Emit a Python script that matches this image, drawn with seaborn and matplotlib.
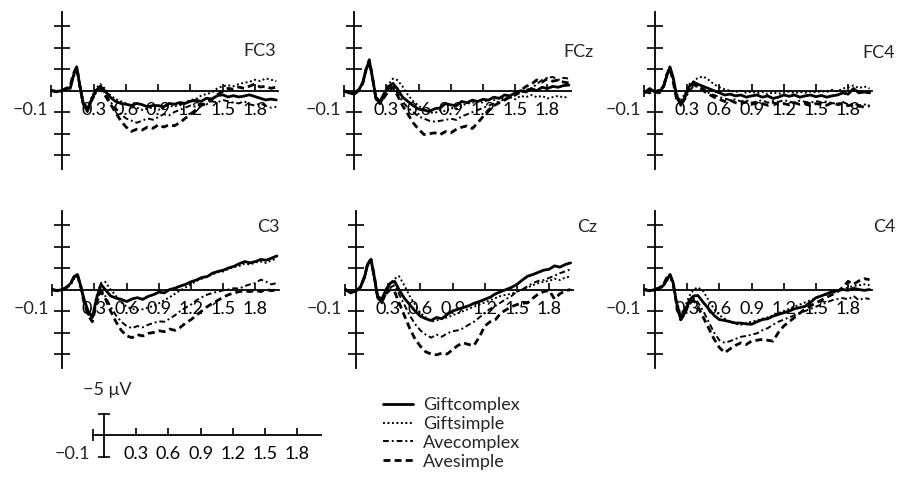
import matplotlib
matplotlib.use("Agg")
import matplotlib.pyplot as plt
from matplotlib.lines import Line2D
import pandas as pd
import seaborn as sns

# sample times (s) and condition / electrode names
times = [-0.1, -0.05, 0.0, 0.04, 0.08, 0.11, 0.14, 0.17, 0.2, 0.24, 0.28, 0.32, 0.36, 0.4,
         0.45, 0.5, 0.55, 0.6, 0.65, 0.7, 0.75, 0.8, 0.85, 0.9, 0.95, 1.0, 1.05, 1.1, 1.15, 1.2,
         1.25, 1.3, 1.35, 1.4, 1.45, 1.5, 1.55, 1.6, 1.65, 1.7, 1.75, 1.8, 1.85, 1.9, 1.95, 2.0]
conditions = ["Giftcomplex", "Giftsimple", "Avecomplex", "Avesimple"]
electrodes = ["FC3", "FCz", "FC4", "C3", "Cz", "C4"]
xtick_values = [0.3, 0.6, 0.9, 1.2, 1.5, 1.8]
xtick_labels = ["0.3", "0.6", "0.9", "1.2", "1.5", "1.8"]
ytick_values = [-15, -10, -5, 5, 10, 15]

# amplitudes in microvolts (negative plotted up)
fc3_giftcomplex = [0, 0.3, 0, -0.5, -0.5, -3.5, -5.5, -1, 3, 4.5, 2, 0, -1, 0,
                   1.5, 2.5, 3, 3.2, 3.5, 3, 3.3, 3.8, 3.5, 3.5, 3.8, 3, 3.2, 2.8, 3, 2.5,
                   2.3, 2.5, 1.8, 2, 1.2, 1, 1.5, 1.2, 1.5, 1.3, 1, 1.4, 1.8, 2.2, 2, 2.2]
fc3_giftsimple = [0, 0.2, 0.2, -0.3, -0.8, -3, -5, -1.5, 2.5, 4, 1.5, -0.5, -1.5, -0.5,
                  1, 2, 2.5, 3, 3.5, 4, 4.5, 4.2, 4, 4.5, 4, 3.5, 3.8, 3.2, 2.8, 2.2,
                  2, 1.2, 0.8, 0.5, -0.5, -1, -1.2, -1, -1.5, -1.8, -2, -2.5, -2.2, -2.8, -2.5, -2.2]
fc3_avecomplex = [0, 0.3, 0.1, -0.2, -1, -3.5, -5, -0.5, 3.5, 5, 2.5, 0.5, -0.8, 0.5,
                  2.5, 4, 5.5, 6.5, 7, 7.5, 7, 6.5, 6.8, 6.2, 5.5, 5.8, 5, 4.5, 4, 3.5,
                  3.8, 3, 3.2, 2.5, 2.8, 2.2, 2.5, 2.8, 3, 2.5, 3.2, 3.5, 3, 3.5, 4, 3.8]
fc3_avesimple = [0, 0.2, 0, -0.4, -1.2, -4, -5.5, -1, 3, 4.8, 2, 0, -0.5, 1,
                 3, 5, 7, 8.5, 9.5, 9, 9.2, 8.5, 8.8, 8, 8.5, 8, 8.2, 7.5, 6.5, 5.5,
                 4.5, 3.5, 3, 2, 1, 0.2, -0.5, -0.3, -0.8, -0.5, -1, -1.5, -0.8, -1, -0.5, -0.8]

fcz_giftcomplex = [0, 0.5, 0.8, 0, -2, -5, -7, -3, 1.5, 2.5, 0.5, -1, -1.7, -0.5,
                   1.5, 2.5, 3.5, 4.3, 4.5, 4.8, 4.2, 4, 3, 3.3, 3.5, 2.5, 2.8, 2.2, 2.5, 2,
                   2.2, 1.5, 1.8, 1, 1.2, 0.5, 0, 0.3, -0.5, 0, -0.8, -0.5, -1, -0.8, -1.2, -1.3]
fcz_giftsimple = [0, 0.3, 0.6, -0.2, -1.5, -4.5, -6.5, -2.5, 2, 3, 1, -1.5, -2.8, -2.5,
                  -1, 1, 2.5, 3.5, 4.5, 5, 5.2, 4.5, 4.8, 4, 4.2, 3.5, 3, 2.8, 2.5, 2.8,
                  2, 2.2, 1.5, 1.8, 1.5, 2, 1.2, 1.5, 1, 1.5, 1.2, 1.8, 1.5, 1.2, 1.6, 1.4]
fcz_avecomplex = [0, 0.4, 0.7, 0, -1.8, -4.8, -6.8, -2.8, 2, 3.2, 1.2, -0.5, -1.2, 0.5,
                  2.5, 4, 5, 6, 6.5, 7, 7.2, 7, 6.8, 6.5, 6.8, 6, 5.5, 5, 4.5, 4,
                  3.5, 3, 2.5, 2, 1.5, 1, 0.5, -0.2, -0.5, -1.5, -2.5, -3, -3.2, -2.5, -3, -2.8]
fcz_avesimple = [0, 0.3, 0.5, -0.2, -1.8, -5, -7.2, -3, 1.5, 3, 1.5, 0, -0.8, 1,
                 3.5, 5.5, 7.5, 9, 10.2, 10, 9.8, 10.2, 9.5, 9.8, 9, 8.5, 8.2, 8.8, 7.5, 6,
                 4.5, 3.5, 2.8, 2.2, 1.5, 1, 0, -1, -1.5, -2.5, -2, -2.8, -2.2, -2.5, -2, -1.8]

fc4_giftcomplex = [0.5, -0.5, 0.3, 0.5, -1, -3.5, -5.5, -3, 1, 3.3, 1.5, -1, -2, -1.5,
                   -1, -0.5, 0, 0.5, 1, 0.8, 1.2, 1, 1.5, 1.2, 1, 1.5, 1.2, 1.8, 1.5, 1,
                   1.3, 1, 1.5, 1.2, 1, 1.4, 1.1, 1.5, 1.2, 1, 0.5, 0.8, -0.5, 0.5, 0.3, 0.5]
fc4_giftsimple = [0, 0.3, 0, -0.2, -1.2, -4, -5.8, -2.5, 0.5, 2.5, 0.5, -1.5, -2.2, -3,
                  -3.3, -2.5, -1.5, -0.8, -0.3, 0, 0.3, 0, 0.5, 0.2, 0.6, 0.3, 0.8, 0.4, 0.7, 0.5,
                  0.2, 0.6, 0.3, 0.5, 0.2, 0.4, 0.1, 0.3, -0.2, 0.2, -0.5, -0.8, -1.2, -0.6, -1, -0.5]
fc4_avecomplex = [0.3, 0, 0.2, 0, -0.8, -3.2, -5, -2.5, 1.5, 3.5, 2, 0, -1, -1,
                  -0.5, 0.5, 1, 1.5, 1.8, 2.2, 2, 2.5, 2.2, 2.8, 2.5, 2.2, 2.8, 2.4, 2.6, 2.2,
                  2.5, 2.8, 2.3, 2.6, 2.8, 2.4, 2.7, 2.5, 2.9, 3, 2.6, 3.2, 3, 3.4, 3.2, 3.5]
fc4_avesimple = [0.2, 0.5, 0, 0.3, -1, -3.8, -5.2, -2, 1.8, 3, 1, -0.5, -1.5, -0.8,
                 0, 0.8, 1.5, 2, 2.5, 2.2, 2.8, 3, 2.6, 3.2, 2.8, 3, 3.4, 2.8, 3.2, 3,
                 3.3, 2.8, 3.2, 3, 3.5, 3, 3.2, 3.4, 2.8, 3.2, 3, 3.5, 3.2, 3.6, 3.8, 3.5]

c3_giftcomplex = [0, 0.3, 0, -0.5, -1.5, -3, -3.5, -1, 2, 5, 6.5, 2, -1.2, 0,
                  1.5, 2, 2.3, 2.8, 2.2, 1.9, 2.3, 1.6, 1.2, 0.6, 0.8, 0, -0.3, -0.8, -1.2, -1.8,
                  -2.2, -2.8, -3, -3.8, -4.2, -4.5, -5, -5.4, -6, -6.5, -6.2, -6.5, -7, -6.8, -7.3, -7.8]
c3_giftsimple = [0, 0.2, 0.2, -0.3, -1.2, -2.5, -3, -0.5, 2.5, 5.5, 6, 1.5, -1.5, -1.8,
                 0, 1.5, 3, 4, 4.5, 4.8, 4.6, 4.2, 3.8, 3.2, 2.5, 1.8, 1, 0.2, -0.5, -1.2,
                 -2, -2.5, -3, -3.5, -4, -4.2, -4.8, -5.2, -5.5, -6, -5.8, -6.3, -6.5, -6.2, -6.8, -7.2]
c3_avecomplex = [0, 0.3, 0.1, -0.4, -1.3, -2.8, -3.2, -0.8, 2.5, 5.8, 7, 3, 0, 1.5,
                 4, 6, 7.5, 8.5, 9, 8.5, 8.8, 8.2, 7.8, 7.4, 7.5, 6.8, 6, 5, 4.2, 3.5,
                 2.5, 1.8, 1.2, 0.8, 0.5, 0.2, 0, -0.3, -0.2, -0.8, -1.2, -1.5, -2.3, -1.8, -1.2, -1.5]
c3_avesimple = [0, 0.2, 0, -0.5, -1.5, -3, -3.5, -1, 2.8, 6, 7.5, 3, 0.5, 2,
                5, 7.5, 9.5, 10.8, 11.2, 10.5, 10.8, 10.2, 10, 9.6, 9.8, 9.2, 9.5, 8.8, 7.8, 7,
                6, 5, 4, 3.2, 2.5, 1.8, 1.2, 0.8, 0.5, 0.3, 0.5, 0.2, 0.5, 0, 0.3, 0]

cz_giftcomplex = [0, 0.8, 0.3, -0.5, -3, -6, -7, -3, 1.5, 2.3, 0, -1.5, -1.9, 0,
                  2, 3.5, 5, 6.2, 6.8, 7.2, 6.5, 6.8, 5.8, 5, 4.6, 4.2, 3.8, 3.2, 2.8, 2.3,
                  1.8, 1, 0.5, 0, -0.5, -1.2, -2.2, -3.1, -3.5, -4, -4.5, -4.7, -5.5, -5.2, -5.8, -6.2]
cz_giftsimple = [0, 0.5, 0.5, -0.3, -2.5, -5.5, -6.5, -2.5, 2, 3, 0.5, -1.5, -2.5, -3.1,
                 -1, 1.5, 3.5, 5.5, 6.5, 7.5, 7.2, 6.8, 6.5, 6, 5.5, 5, 4.5, 4, 3.5, 3,
                 2.5, 2, 1.5, 1.2, 1, 0.5, 0, -0.5, -1, -1.5, -1.8, -2, -2.5, -2.2, -2.8, -3]
cz_avecomplex = [0, 0.6, 0.2, -0.4, -2.8, -5.8, -6.8, -2.8, 2, 3.2, 1, -0.5, -1, 1,
                 3.5, 6, 8, 9.5, 10.5, 11.2, 10.5, 11, 10.2, 9.7, 9.5, 9, 8.2, 7.5, 6.5, 5.5,
                 4.5, 3.8, 3, 2.2, 1.5, 0.5, 0, -0.8, -1.5, -2, -2.2, -2.7, -3.2, -3.8, -4.2, -4.7]
cz_avesimple = [0, 0.5, 0.3, -0.5, -3, -6.2, -7, -3.2, 1.5, 2.8, 1, 0, 0.5, 3,
                6, 9, 11.5, 13.2, 14.5, 15, 15.2, 14.8, 15, 14, 13, 12.4, 12.8, 13, 11, 8.5,
                7.5, 7, 5.5, 4.7, 4, 3.5, 3.2, 3.1, 2, 1, 0.5, 0.2, 2.2, 1, 0.3, 0]

c4_giftcomplex = [0, 0.3, 0, -0.3, -1, -2.2, -3.5, -1.5, 3, 7, 5, 2.5, 1.5, 1.4,
                  3, 4.5, 6, 7, 7.2, 7.5, 7.8, 7.8, 8, 8.1, 7.5, 7, 6.8, 6.2, 5.8, 5.4,
                  5, 4.5, 4.2, 3.9, 3, 1.9, 1.5, 1, 0.5, 0.3, 0, 0.2, -0.3, 0, 0.2, 0]
c4_giftsimple = [0, 0.2, 0.3, 0, -0.8, -2, -3, -1.5, 2.5, 6, 4, 1.5, 0, -0.5,
                 0.4, 2.5, 4.5, 6, 6.8, 7.5, 8, 8.2, 7.8, 7.5, 7.2, 6.8, 6.5, 6, 5.5, 5,
                 4.5, 4, 3.5, 3, 2.5, 2, 1.5, 1.2, 0.8, 0.5, 0, -0.5, -0.8, -1, -1.2, -1]
c4_avecomplex = [0, 0.3, 0.1, -0.2, -0.9, -2.5, -3.2, -1.2, 3, 7.2, 5.5, 3, 2, 3,
                 5, 7.5, 10, 11.8, 12.4, 12, 11.5, 11, 10.8, 10.5, 10.2, 9.5, 9, 8.2, 7.5, 7,
                 6.5, 6, 5.5, 5, 4.5, 4, 3.5, 3, 2.5, 2.2, 2, 2.3, 1.5, 2.5, 2, 2.2]
c4_avesimple = [0, 0.3, 0, -0.4, -1.2, -2.8, -3.5, -1.2, 3.2, 7, 5.5, 3, 2.5, 4,
                6.5, 9, 11.5, 13.5, 14.7, 13.8, 13, 12.4, 12.8, 12, 11.8, 11.6, 11.8, 12, 10, 8.5,
                7.5, 6.5, 5.5, 4.5, 3.8, 3.1, 2.5, 1.8, 1.2, 0.5, -0.5, -1.9, -1.2, -2, -2.5, -2.3]

waves = {
    "FC3": [fc3_giftcomplex, fc3_giftsimple, fc3_avecomplex, fc3_avesimple],
    "FCz": [fcz_giftcomplex, fcz_giftsimple, fcz_avecomplex, fcz_avesimple],
    "FC4": [fc4_giftcomplex, fc4_giftsimple, fc4_avecomplex, fc4_avesimple],
    "C3": [c3_giftcomplex, c3_giftsimple, c3_avecomplex, c3_avesimple],
    "Cz": [cz_giftcomplex, cz_giftsimple, cz_avecomplex, cz_avesimple],
    "C4": [c4_giftcomplex, c4_giftsimple, c4_avecomplex, c4_avesimple],
}

rows = []
for el in electrodes:
    for cond, vals in zip(conditions, waves[el]):
        assert len(vals) == len(times), (el, cond, len(vals))
        for t, v in zip(times, vals):
            rows.append((el, cond, t, v))
df = pd.DataFrame(rows, columns=["electrode", "condition", "time", "uv"])

sns.set_style("white")
plt.rcParams["font.family"] = ["Lato", "DejaVu Sans"]

dash_map = {"Giftcomplex": "", "Giftsimple": (1, 1.3),
            "Avecomplex": (3, 1.5, 1, 1.5), "Avesimple": (2.5, 1.5)}
width_map = {"Giftcomplex": 2.0, "Giftsimple": 1.4, "Avecomplex": 1.4, "Avesimple": 2.0}

W, H = 898, 483
px_per_s = 107.3
px_per_uv = 4.3
x_lo, x_hi = -0.1, 2.02
y_lim = 18.3
fs = 13

# pixel position of (t=0, 0 uV) for each panel
origins = {"FC3": (61.7, 90.5), "FCz": (354.3, 90.7), "FC4": (655, 90.7),
           "C3": (62.3, 289.5), "Cz": (356, 289.5), "C4": (655, 289.5)}
# label left edge (s) and height (uV)
label_pos = {"FC3": (1.69, -9.2), "FCz": (1.95, -9), "FC4": (1.93, -8.8),
             "C3": (1.82, -14.5), "Cz": (2.06, -14.5), "C4": (2.03, -14.6)}

fig = plt.figure(figsize=(W / 100, H / 100), dpi=100)


def add_panel(x0, y0, ylim):
    left = x0 + x_lo * px_per_s
    width = (x_hi - x_lo) * px_per_s
    bottom = H - (y0 + ylim * px_per_uv)
    height = 2 * ylim * px_per_uv
    return fig.add_axes([left / W, bottom / H, width / W, height / H])


def style_axes(ax, ylim):
    ax.set_facecolor("none")
    ax.set_xlim(x_lo, x_hi)
    ax.set_ylim(ylim, -ylim)
    for s in ["top", "right"]:
        ax.spines[s].set_visible(False)
    for s in ["left", "bottom"]:
        ax.spines[s].set_position(("data", 0))
        ax.spines[s].set_linewidth(1.3)
        ax.spines[s].set_color("black")
    ax.set_xticks(xtick_values)
    ax.set_xticklabels(xtick_labels)
    ax.set_xticks([-0.1], minor=True)
    ax.tick_params(axis="x", which="major", bottom=True, direction="in", length=5,
                   width=1.2, pad=8, labelsize=fs, colors="black")
    ax.tick_params(axis="x", which="minor", bottom=True, direction="inout", length=9,
                   width=1.2, colors="black")
    ax.annotate("\u22120.1", xy=(-0.1, 0), xycoords="data", xytext=(-2, -8),
                textcoords="offset points", ha="right", va="top", fontsize=fs)
    ax.set_xlabel("")
    ax.set_ylabel("")


for el in electrodes:
    x0, y0 = origins[el]
    ax = add_panel(x0, y0, y_lim)
    sns.lineplot(data=df[df["electrode"] == el], x="time", y="uv",
                 style="condition", style_order=conditions, dashes=dash_map,
                 size="condition", size_order=conditions, sizes=width_map,
                 color="black", estimator=None, sort=False, legend=False, ax=ax)
    style_axes(ax, y_lim)
    ax.set_yticks(ytick_values)
    ax.set_yticklabels([])
    ax.tick_params(axis="y", left=True, direction="inout", length=12, width=1.2,
                   colors="black")
    lx, ly = label_pos[el]
    ax.text(lx, ly, el, ha="left", va="center", fontsize=fs)

# scale bar axes
sax = add_panel(104, 435, 8)
style_axes(sax, 8)
sax.spines["left"].set_bounds(-5, 5)
sax.set_yticks([-5, 5])
sax.set_yticklabels([])
sax.tick_params(axis="y", left=True, direction="inout", length=9, width=1.2,
                colors="black")
sax.annotate("\u22125 \u03bcV", xy=(0, -5), xycoords="data", xytext=(2, 11),
             textcoords="offset points", ha="center", va="bottom", fontsize=fs)

handles = [Line2D([], [], color="black", lw=width_map[c], linestyle=(0, dash_map[c]))
           if dash_map[c] else Line2D([], [], color="black", lw=width_map[c], linestyle="-")
           for c in conditions]
fig.legend(handles, conditions, loc="upper left",
           bbox_to_anchor=(383 / W, 1 - 397 / H), frameon=False, fontsize=fs,
           handlelength=1.65, handletextpad=0.55, labelspacing=0.16,
           borderpad=0, borderaxespad=0)

fig.savefig("out.png", dpi=100)
